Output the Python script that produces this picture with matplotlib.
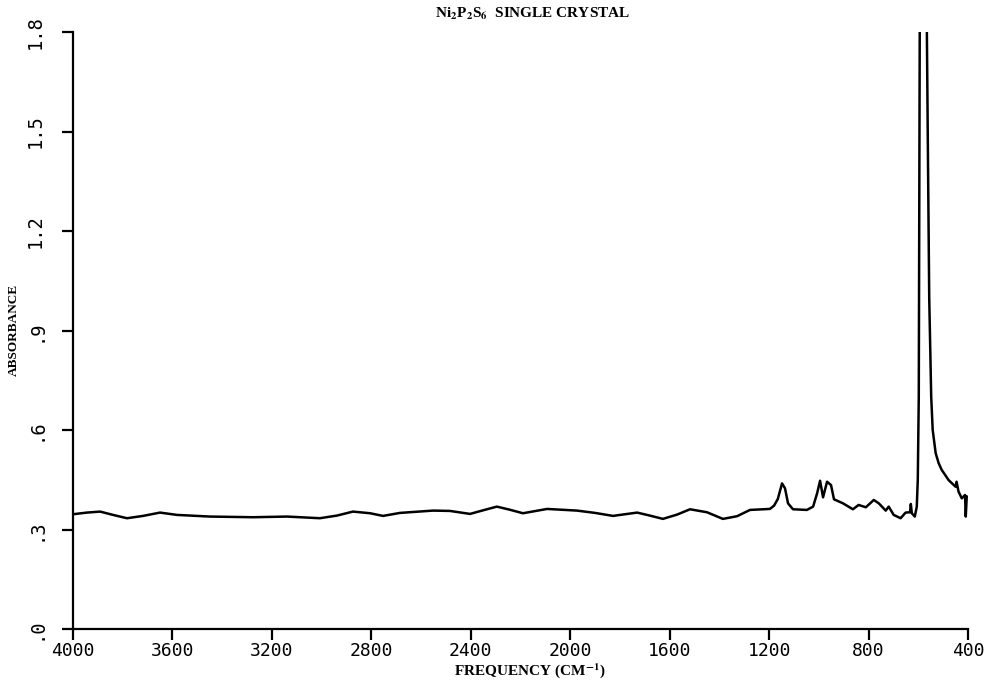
import matplotlib
matplotlib.use("Agg")
import matplotlib.pyplot as plt

# spectrum (wavenumber cm-1, absorbance)
wavenumber = [4000, 3944, 3891, 3839, 3783, 3718, 3650, 3582, 3449, 3276,
              3139, 3007, 2938, 2874, 2805, 2753, 2685, 2552, 2484, 2403,
              2340, 2295, 2245, 2190, 2093, 1973, 1900, 1828, 1731, 1680,
              1627, 1570, 1518, 1450, 1386, 1329, 1277, 1197, 1180, 1165,
              1148, 1136, 1124, 1104, 1048, 1023, 1007, 995, 983, 967,
              951, 939, 903, 863, 840, 811, 779, 759, 731, 719,
              699, 671, 651, 633, 630, 626, 614, 606, 602, 598,
              594, 588, 580, 572, 566, 562, 556, 548, 542, 530,
              518, 506, 478, 450, 446, 438, 425, 412, 409, 407, 405]
absorbance = [0.346, 0.351, 0.354, 0.344, 0.334, 0.341, 0.351, 0.344, 0.339, 0.337,
              0.339, 0.334, 0.342, 0.354, 0.349, 0.341, 0.350, 0.357, 0.356, 0.347,
              0.360, 0.369, 0.360, 0.349, 0.362, 0.357, 0.350, 0.341, 0.351, 0.342,
              0.332, 0.345, 0.361, 0.352, 0.332, 0.340, 0.359, 0.362, 0.372, 0.392,
              0.439, 0.424, 0.379, 0.361, 0.359, 0.369, 0.409, 0.447, 0.397, 0.444,
              0.434, 0.391, 0.379, 0.361, 0.374, 0.367, 0.389, 0.379, 0.357, 0.369,
              0.344, 0.334, 0.351, 0.352, 0.377, 0.349, 0.339, 0.369, 0.45, 0.70,
              1.85, 2.60, 3.00, 2.60, 1.85, 1.50, 1.00, 0.70, 0.60, 0.53,
              0.50, 0.48, 0.449, 0.429, 0.444, 0.414, 0.394, 0.404, 0.339, 0.37, 0.40]

xticks = [4000, 3600, 3200, 2800, 2400, 2000, 1600, 1200, 800, 400]
yticks = [0.0, 0.3, 0.6, 0.9, 1.2, 1.5, 1.8]
ytick_labels = ['.0', '.3', '.6', '.9', '1.2', '1.5', '1.8']

plt.rcParams['mathtext.fontset'] = 'stix'

fig = plt.figure(figsize=(10.08, 6.82), dpi=100)
ax = fig.add_axes([73/1008, 1 - 629/682, (968-73)/1008, (629-32)/682])

ax.plot(wavenumber, absorbance, color='black', lw=1.8,
        solid_joinstyle='round', solid_capstyle='round')

ax.set_xlim(4000, 400)
ax.set_ylim(0, 1.8)
ax.spines['top'].set_visible(False)
ax.spines['right'].set_visible(False)
ax.spines['left'].set_linewidth(1.6)
ax.spines['bottom'].set_linewidth(1.6)

ax.set_xticks(xticks)
ax.set_xticklabels([str(t) for t in xticks], fontfamily='DejaVu Sans Mono', fontsize=13)
ax.set_yticks(yticks)
ax.set_yticklabels(ytick_labels, fontfamily='DejaVu Sans Mono', fontsize=13.5,
                   rotation=90, va='center')
ax.tick_params(axis='both', direction='out', length=8, width=1.6)
ax.tick_params(axis='y', pad=12)
ax.tick_params(axis='x', pad=1)

fig.text(14/1008, 1 - 330/682, 'ABSORBANCE', rotation=90, ha='center', va='center',
         fontfamily='Liberation Serif', fontweight='bold', fontsize=9.5)
fig.text(530/1008, 1 - 671/682, r'FREQUENCY (CM$^{\mathbf{-1}}$)', ha='center', va='center',
         fontfamily='Liberation Serif', fontweight='bold', fontsize=11)
fig.text(533/1008, 1 - 14/682, r'Ni$_{\mathbf{2}}$P$_{\mathbf{2}}$S$_{\mathbf{6}}$  SINGLE CRYSTAL',
         ha='center', va='center', fontfamily='Liberation Serif', fontweight='bold', fontsize=11)

fig.savefig('out.png', dpi=100)
